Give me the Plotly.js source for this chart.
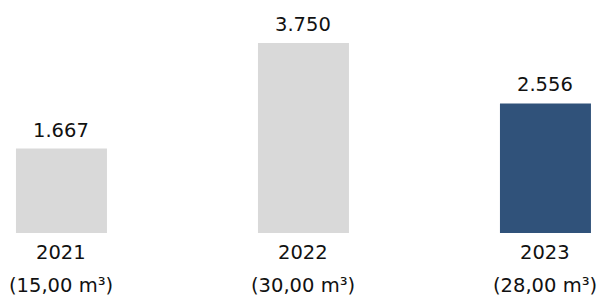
<!DOCTYPE html>
<html>
<head>
<meta charset="utf-8">
<script src="https://cdn.plot.ly/plotly-3.0.1.min.js"></script>
<style>html,body{margin:0;padding:0;background:#fff;}#chart{width:597px;height:298px;}</style>
</head>
<body>
<div id="chart"></div>
<script>
const years = ["2021", "2022", "2023"];
const volumes = ["(15,00 m³)", "(30,00 m³)", "(28,00 m³)"];
const values = [1667, 3750, 2556];
const barColors = ["#d9d9d9", "#d9d9d9", "#30527a"];

const FONT = "DejaVu Sans, Verdana, sans-serif";
const TXT = "#111111";
const FS = 19.5;

const trace = {
  type: "bar",
  x: years,
  y: values,
  width: 0.376,
  marker: {color: barColors},
  hoverinfo: "skip"
};

const annotations = [];
years.forEach((yr, i) => {
  annotations.push({
    x: i, y: values[i], xref: "x", yref: "y",
    text: values[i].toString().replace(/\B(?=(\d{3})+(?!\d))/g, "."),
    showarrow: false, yanchor: "middle", yshift: 18.5,
    font: {family: FONT, size: FS, color: TXT}
  });
  annotations.push({
    x: i, y: 0, xref: "x", yref: "y",
    text: yr, showarrow: false, yanchor: "middle", yshift: -19,
    font: {family: FONT, size: FS, color: TXT}
  });
  annotations.push({
    x: i, y: 0, xref: "x", yref: "y",
    text: volumes[i], showarrow: false, yanchor: "middle", yshift: -52,
    font: {family: FONT, size: FS, color: TXT}
  });
});

const layout = {
  width: 597, height: 298,
  margin: {l: 0, r: 0, t: 0, b: 65},
  paper_bgcolor: "#ffffff", plot_bgcolor: "#ffffff",
  showlegend: false,
  xaxis: {type: "category", range: [-0.254, 2.213], showticklabels: false, showgrid: false, zeroline: false, showline: false, ticks: ""},
  yaxis: {range: [0, 4598], showticklabels: false, showgrid: false, zeroline: false, showline: false, ticks: ""},
  annotations: annotations,
  font: {family: FONT, color: TXT}
};

Plotly.newPlot("chart", [trace], layout, {displayModeBar: false, staticPlot: true});
</script>
</body>
</html>
